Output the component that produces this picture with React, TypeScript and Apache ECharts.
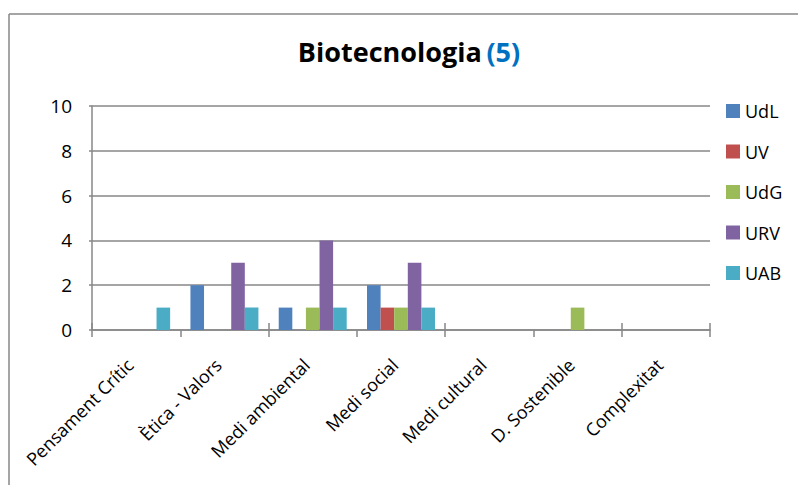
import React, { useEffect, useRef } from "react";
import * as echarts from "echarts";

const categories = [
  "Pensament Crític",
  "Ètica - Valors",
  "Medi ambiental",
  "Medi social",
  "Medi cultural",
  "D. Sostenible",
  "Complexitat",
];
const seriesNames = ["UdL", "UV", "UdG", "URV", "UAB"];
const udl = [0, 2, 1, 2, 0, 0, 0];
const uv = [0, 0, 0, 1, 0, 0, 0];
const udg = [0, 0, 1, 1, 0, 1, 0];
const urv = [0, 3, 4, 3, 0, 0, 0];
const uab = [1, 1, 1, 1, 0, 0, 0];
const seriesValues = [udl, uv, udg, urv, uab];
const colors = ["#4F81BD", "#C0504D", "#9BBB59", "#8064A2", "#4BACC6"];
const yTicks = { min: 0, max: 10, interval: 2 };
const titleMain = "Biotecnologia";
const titleCount = "(5)";

const FONT = "'Open Sans', Lato, sans-serif";
const GRAY = "#878787";

export default function App() {
  const ref = useRef<HTMLDivElement>(null);
  useEffect(() => {
    if (!ref.current) return;
    const chart = echarts.init(ref.current, null, { renderer: "svg" });
    chart.setOption({
      animation: false,
      backgroundColor: "#ffffff",
      textStyle: { fontFamily: FONT },
      title: {
        text: `{a|${titleMain}} {b|${titleCount}}`,
        left: 404,
        top: 33,
        textAlign: "center",
        textStyle: {
          rich: {
            a: { fontFamily: FONT, fontSize: 27, fontWeight: "bold", color: "#000" },
            b: { fontFamily: FONT, fontSize: 27, fontWeight: "bold", color: "#0070C0" },
          },
        },
      },
      legend: {
        orient: "vertical",
        left: 721,
        top: 97,
        itemWidth: 14,
        itemHeight: 14,
        itemGap: 22.5,
        icon: "rect",
        textStyle: { fontFamily: FONT, fontSize: 18, color: "#000" },
        data: seriesNames,
      },
      grid: { left: 92, right: 88, top: 106, bottom: 155, containLabel: false },
      xAxis: [
        {
          type: "category",
          data: categories,
          axisLine: { show: true, lineStyle: { color: GRAY, width: 1.5 } },
          axisTick: { show: true, length: 7, lineStyle: { color: GRAY, width: 1.5 } },
          axisLabel: {
            rotate: 45,
            margin: 38,
            align: "right",
            verticalAlign: "bottom",
            fontFamily: FONT,
            fontSize: 18,
            color: "#000",
            interval: 0,
          },
        },
        {
          type: "category",
          data: categories,
          position: "bottom",
          axisLine: { show: false },
          axisTick: { show: true, inside: true, length: 7, lineStyle: { color: GRAY, width: 1.5 } },
          axisLabel: { show: false },
        },
      ],
      yAxis: {
        type: "value",
        min: yTicks.min,
        max: yTicks.max,
        interval: yTicks.interval,
        axisLine: { show: true, lineStyle: { color: GRAY, width: 1.5 } },
        axisTick: { show: true, length: 3, lineStyle: { color: GRAY, width: 1.5 } },
        splitLine: { show: true, lineStyle: { color: GRAY, width: 1.5 } },
        axisLabel: { margin: 20, fontFamily: FONT, fontSize: 19, color: "#000" },
      },
      series: seriesNames.map((name, i) => ({
        name,
        type: "bar",
        data: seriesValues[i],
        barGap: "0%",
        barCategoryGap: "23%",
        itemStyle: { color: colors[i] },
      })),
      graphic: [
        {
          type: "line",
          shape: { x1: 9, y1: 14, x2: 798, y2: 14 },
          style: { stroke: GRAY, lineWidth: 1.5 },
        },
        {
          type: "line",
          shape: { x1: 9, y1: 14, x2: 9, y2: 485 },
          style: { stroke: GRAY, lineWidth: 1.5 },
        },
      ],
    });
    return () => chart.dispose();
  }, []);
  return (
    <div
      ref={ref}
      style={{ position: "fixed", left: 0, top: 0, width: 798, height: 485 }}
    />
  );
}
